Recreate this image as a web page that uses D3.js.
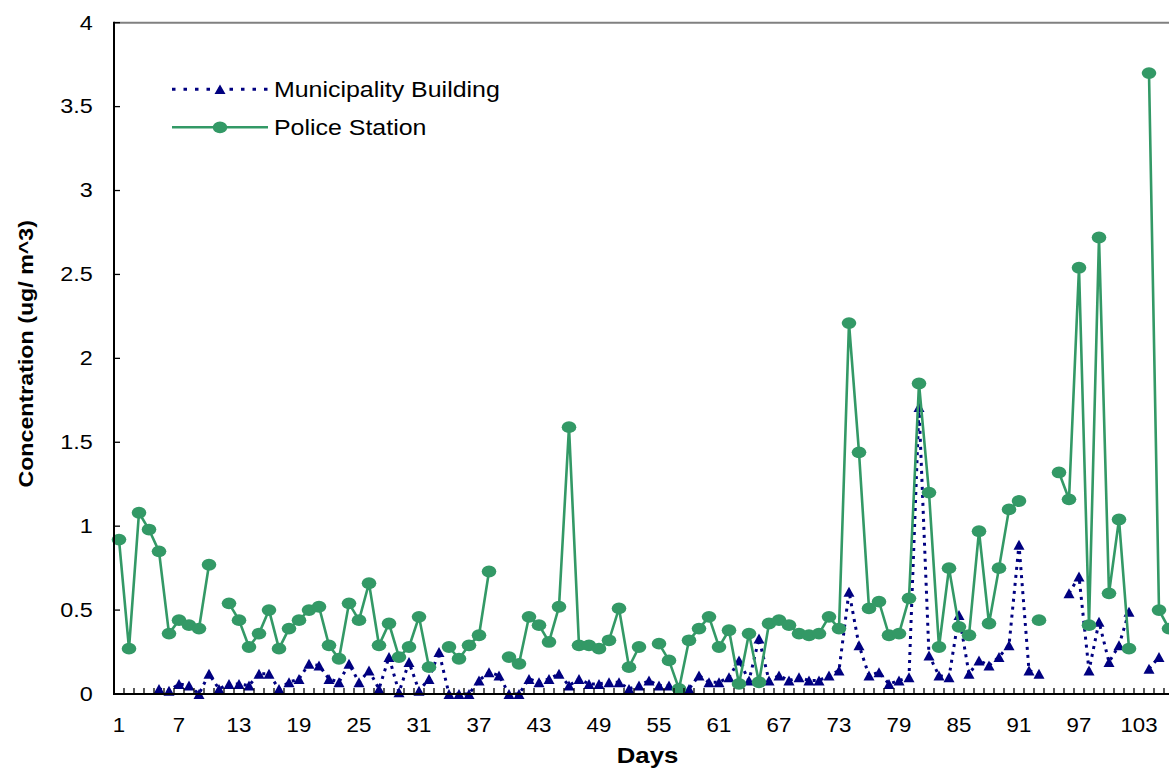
<!DOCTYPE html>
<html>
<head>
<meta charset="utf-8">
<script src="https://cdn.jsdelivr.net/npm/d3@7"></script>
<style>
  html, body { margin: 0; padding: 0; background: #ffffff; overflow: hidden; }
  svg { display: block; }
</style>
</head>
<body>
<svg id="chart" width="1169" height="769"></svg>
<script>
// ---------------- data ----------------
const days = d3.range(1, 107);
const municipality = [
  null, null, null, null, 0.03, 0.02, 0.06, 0.05, 0.00, 0.12,
  0.03, 0.06, 0.06, 0.05, 0.12, 0.12, 0.03, 0.07, 0.09, 0.18,
  0.17, 0.09, 0.07, 0.18, 0.07, 0.14, 0.03, 0.22, 0.01, 0.19,
  0.02, 0.09, 0.25, 0.00, 0.00, 0.00, 0.08, 0.13, 0.11, 0.00,
  0.00, 0.09, 0.07, 0.09, 0.12, 0.05, 0.09, 0.06, 0.06, 0.07,
  0.07, 0.03, 0.05, 0.08, 0.05, 0.05, 0.04, 0.03, 0.11, 0.07,
  0.07, 0.10, 0.20, 0.08, 0.33, 0.08, 0.11, 0.08, 0.10, 0.08,
  0.08, 0.11, 0.14, 0.61, 0.29, 0.11, 0.13, 0.06, 0.08, 0.10,
  1.71, 0.23, 0.11, 0.10, 0.47, 0.12, 0.20, 0.17, 0.22, 0.29,
  0.89, 0.14, 0.12, null, null, 0.60, 0.70, 0.14, 0.43, 0.19,
  0.29, 0.49, null, 0.15, 0.22, null
];
const police = [
  0.92, 0.27, 1.08, 0.98, 0.85, 0.36, 0.44, 0.41, 0.39, 0.77,
  null, 0.54, 0.44, 0.28, 0.36, 0.50, 0.27, 0.39, 0.44, 0.50,
  0.52, 0.29, 0.21, 0.54, 0.44, 0.66, 0.29, 0.42, 0.22, 0.28,
  0.46, 0.16, null, 0.28, 0.21, 0.29, 0.35, 0.73, null, 0.22,
  0.18, 0.46, 0.41, 0.31, 0.52, 1.59, 0.29, 0.29, 0.27, 0.32,
  0.51, 0.16, 0.28, null, 0.30, 0.20, 0.03, 0.32, 0.39, 0.46,
  0.28, 0.38, 0.06, 0.36, 0.07, 0.42, 0.44, 0.41, 0.36, 0.35,
  0.36, 0.46, 0.39, 2.21, 1.44, 0.51, 0.55, 0.35, 0.36, 0.57,
  1.85, 1.20, 0.28, 0.75, 0.40, 0.35, 0.97, 0.42, 0.75, 1.10,
  1.15, null, 0.44, null, 1.32, 1.16, 2.54, 0.41, 2.72, 0.60,
  1.04, 0.27, null, 3.70, 0.50, 0.39
];
const xTickLabels = [1, 7, 13, 19, 25, 31, 37, 43, 49, 55, 61, 67, 73, 79, 85, 91, 97, 103];
const yTickValues = [0, 0.5, 1, 1.5, 2, 2.5, 3, 3.5, 4];
const seriesNames = ["Municipality Building", "Police Station"];

// ---------------- layout ----------------
const svg = d3.select("#chart");
const FONT = "'Liberation Sans', Arial, Helvetica, sans-serif";
const NAVY = "#000080";
const GREEN = "#339966";

const plotLeft = 114, plotTop = 22.7, plotBottom = 694;
const dayWidth = 10;
const x = d3.scaleLinear()
  .domain([0.5, days.length + 0.5])
  .range([plotLeft, plotLeft + dayWidth * days.length]);
const y = d3.scaleLinear().domain([0, 4]).range([plotBottom, plotTop]);

// stretched text helper (original chart text is horizontally stretched)
function sText(parent, tx, ty, str, size, sx, anchor, weight, rotate) {
  const t = parent.append("text")
    .attr("transform", `translate(${tx},${ty})` + (rotate ? ` rotate(${rotate})` : "") + ` scale(${sx},1)`)
    .attr("x", 0).attr("y", 0)
    .attr("font-family", FONT)
    .attr("font-size", size)
    .attr("font-weight", weight || "normal")
    .attr("text-anchor", anchor)
    .attr("fill", "#000")
    .text(str);
  return t;
}

// plot frame: top border grey
svg.append("line")
  .attr("x1", plotLeft).attr("x2", 1175)
  .attr("y1", plotTop).attr("y2", plotTop)
  .attr("stroke", "#808080").attr("stroke-width", 2);

// ---------------- series ----------------
const mData = days.map((d, i) => ({ day: d, v: municipality[i] }));
const pData = days.map((d, i) => ({ day: d, v: police[i] }));

const lineGen = d3.line()
  .defined(d => d.v !== null)
  .x(d => x(d.day))
  .y(d => y(d.v));

function triPath(w, h) {
  return `M0,${-h / 2}L${w / 2},${h / 2}L${-w / 2},${h / 2}Z`;
}

// Municipality Building (dotted navy, triangles)
svg.append("path")
  .datum(mData)
  .attr("d", lineGen)
  .attr("fill", "none")
  .attr("stroke", NAVY)
  .attr("stroke-width", 3)
  .attr("stroke-dasharray", "3,5");

svg.append("g").selectAll("path")
  .data(mData.filter(d => d.v !== null))
  .join("path")
  .attr("d", triPath(11, 10))
  .attr("transform", d => `translate(${x(d.day)},${y(d.v)})`)
  .attr("fill", NAVY);

// Police Station (solid green, circles)
svg.append("path")
  .datum(pData)
  .attr("d", lineGen)
  .attr("fill", "none")
  .attr("stroke", GREEN)
  .attr("stroke-width", 2.6);

svg.append("g").selectAll("ellipse")
  .data(pData.filter(d => d.v !== null))
  .join("ellipse")
  .attr("cx", d => x(d.day))
  .attr("cy", d => y(d.v))
  .attr("rx", 7.3)
  .attr("ry", 5.9)
  .attr("fill", GREEN);

// ---------------- axes ----------------
// y axis line
svg.append("line")
  .attr("x1", plotLeft).attr("x2", plotLeft)
  .attr("y1", plotTop - 1).attr("y2", plotBottom + 1)
  .attr("stroke", "#000").attr("stroke-width", 2);
// y ticks (inside)
svg.append("g").selectAll("line")
  .data(yTickValues)
  .join("line")
  .attr("x1", plotLeft).attr("x2", plotLeft + 6)
  .attr("y1", d => y(d)).attr("y2", d => y(d))
  .attr("stroke", "#000").attr("stroke-width", 1.3);
// y labels
const yLab = svg.append("g");
yTickValues.forEach(v => {
  sText(yLab, 92.7, y(v) + 6.8, d3.format("~g")(v), 19.5, 1.2, "end");
});

// x axis line
svg.append("line")
  .attr("x1", plotLeft - 1).attr("x2", 1175)
  .attr("y1", plotBottom).attr("y2", plotBottom)
  .attr("stroke", "#000").attr("stroke-width", 2);
// x ticks at category boundaries (inside)
const boundaries = d3.range(0, days.length + 1).map(k => k + 0.5);
svg.append("g").selectAll("line")
  .data(boundaries)
  .join("line")
  .attr("x1", d => x(d)).attr("x2", d => x(d))
  .attr("y1", plotBottom).attr("y2", plotBottom - 6)
  .attr("stroke", "#000").attr("stroke-width", 1.3);
// x labels
const xLab = svg.append("g");
xTickLabels.forEach(d => {
  sText(xLab, x(d), 732.3, String(d), 21, 1.06, "middle");
});

// axis titles
sText(svg, 647.5, 763, "Days", 22, 1.17, "middle", "bold");
sText(svg, 33.3, 353.8, "Concentration (ug/ m^3)", 21, 1.106, "middle", "bold", -90);

// ---------------- legend ----------------
const lg = svg.append("g");
const lx1 = 172, lx2 = 268, lmx = 220;
const rowM = 89.3, rowP = 127.3;
lg.append("line")
  .attr("x1", lx1).attr("x2", lx2).attr("y1", rowM).attr("y2", rowM)
  .attr("stroke", NAVY).attr("stroke-width", 3).attr("stroke-dasharray", "3.5,8");
lg.append("path")
  .attr("d", triPath(11, 9.5))
  .attr("transform", `translate(${lmx},${rowM})`)
  .attr("fill", NAVY);
lg.append("line")
  .attr("x1", lx1).attr("x2", lx2).attr("y1", rowP).attr("y2", rowP)
  .attr("stroke", GREEN).attr("stroke-width", 2.6);
lg.append("ellipse")
  .attr("cx", lmx).attr("cy", rowP).attr("rx", 7.3).attr("ry", 5.9)
  .attr("fill", GREEN);
sText(lg, 274, rowM + 7.6, seriesNames[0], 21.5, 1.16, "start");
sText(lg, 274, rowP + 7.6, seriesNames[1], 21.5, 1.16, "start");
</script>
</body>
</html>
